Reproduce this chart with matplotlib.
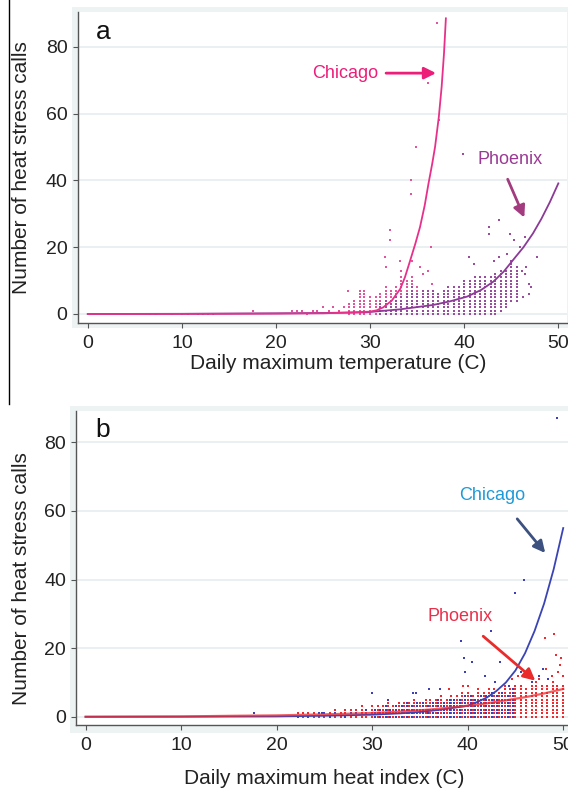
import matplotlib
matplotlib.use('Agg')
import matplotlib.pyplot as plt
from matplotlib.patches import Rectangle
from matplotlib.lines import Line2D

plt.rcParams['font.family'] = ['Liberation Sans', 'DejaVu Sans']

# ---- panel a: daily maximum temperature ----
chi_a_curve_x = [0, 10, 20, 25, 28, 30.0, 30.7, 31.4, 32.3, 33.2, 33.7, 34.2, 34.8, 35.3, 35.8, 36.2, 36.6, 36.9, 37.3, 37.6, 37.85, 38.05]
chi_a_curve_y = [0, 0.02, 0.1, 0.2, 0.45, 0.7, 1.1, 2.0, 4.0, 7.5, 11, 15.5, 21, 26, 32.5, 39, 45, 50, 59, 68, 78, 88.5]
phx_a_curve_x = [0, 10, 20, 25, 29.6, 33.2, 36.7, 38.5, 40.3, 41.8, 43.1, 44.2, 45.2, 46.3, 47.3, 48.2, 49.1, 50]
phx_a_curve_y = [0, 0.05, 0.2, 0.3, 0.5, 1.4, 2.7, 3.8, 5.2, 7.2, 9.7, 12.7, 16.2, 20, 24.1, 28.5, 33.5, 39.1]

chi_a_low_x = [6.6, 7.2, 8.9, 10.0, 10.6, 11.7, 12.2, 12.8, 13.3, 17.6, 21.7, 22.2, 22.8, 23.3, 23.9, 24.4, 25.0, 25.6, 26.1, 26.7, 27.2]
chi_a_low_y = [0, 0, 0, 0, 0, 0, 0, 0, 0, 1, 1, 1, 1, 0, 1, 1, 2, 1, 2, 1, 2]
chi_a_col_x = [27.8, 28.3, 28.9, 29.4, 30.0, 30.6, 31.1, 31.7, 32.2, 32.8, 33.3, 33.9, 34.4, 35.0, 35.6, 36.1, 36.7]
chi_a_col_top = [3, 4, 7, 7, 5, 5, 6, 8, 7, 8, 11, 10, 11, 8, 7, 5, 4]
chi_a_out_x = [27.6, 31.6, 31.7, 32.1, 32.1, 33.2, 33.3, 34.3, 34.3, 34.4, 34.9, 35.3, 35.6, 36.1, 36.1, 36.5, 36.6, 37.1, 37.3]
chi_a_out_y = [7, 17, 14, 25, 22, 16, 13, 40, 36, 16, 50, 14, 12, 13, 69, 20, 9, 87, 58]

phx_a_col_x = [31.1, 31.7, 32.2, 32.8, 33.3, 33.9, 34.4, 35.0, 35.6, 36.1, 36.7, 37.2, 37.8, 38.3, 38.9, 39.4, 40.0,
               40.6, 41.1, 41.7, 42.2, 42.8, 43.3, 43.9, 44.4, 45.0, 45.6]
phx_a_col_bot = [0, 0, 0, 0, 0, 0, 0, 0, 0, 0, 0, 0, 0, 0, 0, 0, 0, 0, 0, 0, 0, 0, 0, 1, 2, 4, 4]
phx_a_col_top = [3, 4, 4, 5, 5, 6, 8, 6, 7, 7, 7, 6, 7, 8, 8, 8, 10, 10, 11, 11, 11, 11, 12, 13, 13, 16, 14]
phx_a_out_x = [39.9, 43.7, 42.6, 42.6, 44.9, 46.5, 45.3, 45.9, 47.7, 40.5, 41.0, 43.7, 43.2, 46.2, 46.6, 46.9, 46.9, 47.1, 46.1, 46.5, 44.5]
phx_a_out_y = [48, 28, 26, 24, 24, 23, 22, 20, 17, 17, 15, 17, 16, 5, 14, 9, 6, 8, 13, 12, 18]

# ---- panel b: daily maximum heat index ----
chi_b_curve_x = [0, 10, 20, 25, 30, 33, 35, 37, 38.5, 40, 41, 42, 43, 44, 45, 46, 47, 48, 49, 50]
chi_b_curve_y = [0, 0.02, 0.1, 0.3, 0.6, 1.0, 1.4, 2.0, 2.6, 3.2, 4.3, 5.6, 7.5, 10, 13.5, 18.5, 25, 33, 43, 55]
phx_b_curve_x = [0, 10, 16, 20, 25, 30, 33, 36, 39, 42, 44, 46, 48, 50]
phx_b_curve_y = [0, 0.1, 0.3, 0.4, 0.7, 1.1, 1.5, 2.1, 2.9, 3.9, 4.8, 5.7, 6.8, 8.1]

chi_b_low_x = [17.6, 22.2, 23.3, 24.4, 24.7, 25.0, 25.6, 26.1, 27.2, 27.8, 28.3, 29.4]
chi_b_low_y = [1, 0, 0, 1, 1, 1, 0, 1, 0, 1, 1, 2]
chi_b_col_x = [30.3, 30.8, 31.4, 31.9, 32.5, 33.1, 33.6, 34.2, 34.7, 35.3, 35.8, 36.4, 36.9, 37.5, 38.1, 38.6,
               39.2, 39.7, 40.3, 40.8, 41.4, 41.9, 42.5, 43.1, 43.6, 44.2, 44.7]
chi_b_col_top = [2, 2, 3, 2, 3, 3, 4, 3, 4, 4, 3, 4, 5, 4, 5, 5, 5, 6, 6, 5, 6, 6, 7, 6, 7, 6, 8]
chi_b_out_x = [49.4, 45.9, 44.9, 39.3, 42.4, 39.6, 40.5, 39.7, 43.4, 47.9, 47.5, 30.0, 31.7, 34.3, 34.6, 36.0, 37.1,
               41.8, 46.7, 48.4, 44.3, 42.9, 45.6]
chi_b_out_y = [87, 40, 36, 22, 25, 17, 16, 13, 16, 14, 12, 7, 5, 7, 7, 8, 8, 12, 10, 11, 9, 10, 13]

phx_b_col_x = [22.2, 22.8, 23.3, 23.9, 24.4, 25.0, 25.6, 26.1, 26.7, 27.2, 27.8, 28.3, 28.9, 29.4, 30.0, 30.6, 31.1,
               31.7, 32.2, 32.8, 33.3, 33.9, 34.4, 35.0, 35.6, 36.1, 36.7, 37.2, 37.8, 38.3, 38.9, 39.4, 40.0, 40.6,
               41.1, 41.7, 42.2, 42.8, 43.3, 43.9, 44.4, 45.0, 45.6, 46.1, 46.7, 47.2, 47.8, 48.3, 48.9, 49.4, 50.0]
phx_b_col_top = [1, 1, 1, 1, 1, 1, 1, 2, 1, 2, 2, 2, 3, 2, 3, 3, 3, 4, 3, 4, 4, 4, 5, 4, 5, 5, 5,
                 6, 5, 6, 6, 7, 7, 6, 8, 7, 8, 8, 7, 9, 8, 9, 9, 8, 9, 10, 9, 9, 10, 9, 9]
phx_b_out_x = [49.0, 48.1, 49.2, 49.8, 49.7, 49.5, 48.2, 50.0, 47.5, 46.4, 44.6, 45.3, 48.8, 39.5, 40.0, 38.0]
phx_b_out_y = [24, 23, 18, 17, 15, 13, 14, 12, 11, 12, 11, 12, 12, 9, 9, 8]


def stack(xs, tops, bots=None):
    # every count between the lowest and highest dot seen in a column
    px, py = [], []
    for i, x in enumerate(xs):
        lo = bots[i] if bots else 0
        for v in range(lo, tops[i] + 1):
            px.append(x)
            py.append(v)
    return px, py


W, H = 568, 789
fig = plt.figure(figsize=(W / 100, H / 100), dpi=100)
fig.patch.set_facecolor('white')

# light grey plot-region frames and the thin black rule on the left
fig.add_artist(Rectangle((72 / W, 1 - 328 / H), 496 / W, 321 / H, transform=fig.transFigure,
                         facecolor='#edf2f2', edgecolor='none', zorder=-5))
fig.add_artist(Rectangle((70 / W, 1 - 733 / H), 498 / W, 327 / H, transform=fig.transFigure,
                         facecolor='#edf2f2', edgecolor='none', zorder=-5))
fig.add_artist(Line2D([9.3 / W, 9.3 / W], [1, 1 - 404 / H], transform=fig.transFigure, color='black', lw=1))

ax_a = fig.add_axes([78 / W, 1 - 323 / H, 489 / W, 311 / H])
ax_b = fig.add_axes([76.5 / W, 1 - 725 / H, 491.5 / W, 314.3 / H])

for ax in (ax_a, ax_b):
    ax.set_facecolor('white')
    for s in ('top', 'right'):
        ax.spines[s].set_visible(False)
    for s in ('left', 'bottom'):
        ax.spines[s].set_color('#555555')
        ax.spines[s].set_linewidth(1.0)
    ax.set_xticks([0, 10, 20, 30, 40, 50])
    ax.set_yticks([0, 20, 40, 60, 80])
    ax.tick_params(direction='out', length=3.6, width=0.8, color='#555555', labelsize=14,
                   labelcolor='#222222', pad=4)
    ax.tick_params(axis='x', pad=5)
    ax.grid(axis='y', color='#e6eef0', lw=1.2)
    ax.set_axisbelow(True)

ax_a.set_xlim(-1.04, 50.92)
ax_a.set_ylim(-2.7, 90.4)
ax_b.set_xlim(-0.95, 50.5)
ax_b.set_ylim(-2.4, 89.2)

dot = dict(s=3.5, marker='s', linewidths=0, zorder=2)

# panel a dots
x, y = stack(chi_a_col_x, chi_a_col_top)
ax_a.scatter(chi_a_low_x + x + chi_a_out_x, chi_a_low_y + y + chi_a_out_y, color='#e0559b', **dot)
x, y = stack(phx_a_col_x, phx_a_col_top, phx_a_col_bot)
ax_a.scatter(x + phx_a_out_x, y + phx_a_out_y, color='#9a4d9f', **dot)
ax_a.plot(phx_a_curve_x, phx_a_curve_y, color='#8b3a96', lw=1.3, zorder=3)
ax_a.plot(chi_a_curve_x, chi_a_curve_y, color='#e8308a', lw=1.3, zorder=3)

# panel b dots
x, y = stack(phx_b_col_x, phx_b_col_top)
ax_b.scatter(x + phx_b_out_x, y + phx_b_out_y, color='#ee2a2e', **dot)
x, y = stack(chi_b_col_x, chi_b_col_top)
ax_b.scatter(chi_b_low_x + x + chi_b_out_x, chi_b_low_y + y + chi_b_out_y, color='#3d3fb8', **dot)
ax_b.plot(chi_b_curve_x, chi_b_curve_y, color='#3a44b4', lw=1.3, zorder=3)
ax_b.plot(phx_b_curve_x, phx_b_curve_y, color='#ee2a2e', lw=1.6, zorder=3, alpha=0.75)

# annotations
ax_a.text(27.4, 72.0, 'Chicago', color='#ec1e79', fontsize=13, ha='center', va='center')
ax_a.annotate('', xy=(37.3, 72.1), xytext=(31.4, 72.1),
              arrowprops=dict(arrowstyle='-|>,head_length=0.7,head_width=0.35', color='#ec1e79', lw=2))
ax_a.text(44.9, 46.3, 'Phoenix', color='#9b3a94', fontsize=13, ha='center', va='center')
ax_a.annotate('', xy=(46.5, 28.1), xytext=(44.5, 41.1),
              arrowprops=dict(arrowstyle='-|>,head_length=0.7,head_width=0.35', color='#a33b7f', lw=2))

ax_b.text(42.6, 64.6, 'Chicago', color='#1f9ad8', fontsize=13, ha='center', va='center')
ax_b.annotate('', xy=(48.3, 47.1), xytext=(45.0, 58.3),
              arrowprops=dict(arrowstyle='-|>,head_length=0.7,head_width=0.35', color='#3d5180', lw=2))
ax_b.text(39.2, 29.2, 'Phoenix', color='#e8304a', fontsize=13, ha='center', va='center')
ax_b.annotate('', xy=(47.3, 10.0), xytext=(41.4, 24.0),
              arrowprops=dict(arrowstyle='-|>,head_length=0.7,head_width=0.35', color='#ea2b2b', lw=2))

# panel letters and axis titles
fig.text(103 / W, 1 - 32 / H, 'a', fontsize=19, ha='center', va='center', color='#111111')
fig.text(103 / W, 1 - 430 / H, 'b', fontsize=19, ha='center', va='center', color='#111111')
fig.text(22 / W, 1 - 168 / H, 'Number of heat stress calls', rotation=90, fontsize=15,
         ha='center', va='center', color='#222222')
fig.text(21.5 / W, 1 - 579 / H, 'Number of heat stress calls', rotation=90, fontsize=15,
         ha='center', va='center', color='#222222')
fig.text(338 / W, 1 - 363 / H, 'Daily maximum temperature (C)', fontsize=15,
         ha='center', va='center', color='#222222')
fig.text(324 / W, 1 - 778 / H, 'Daily maximum heat index (C)', fontsize=15,
         ha='center', va='center', color='#222222')

fig.savefig('out.png', dpi=100)
